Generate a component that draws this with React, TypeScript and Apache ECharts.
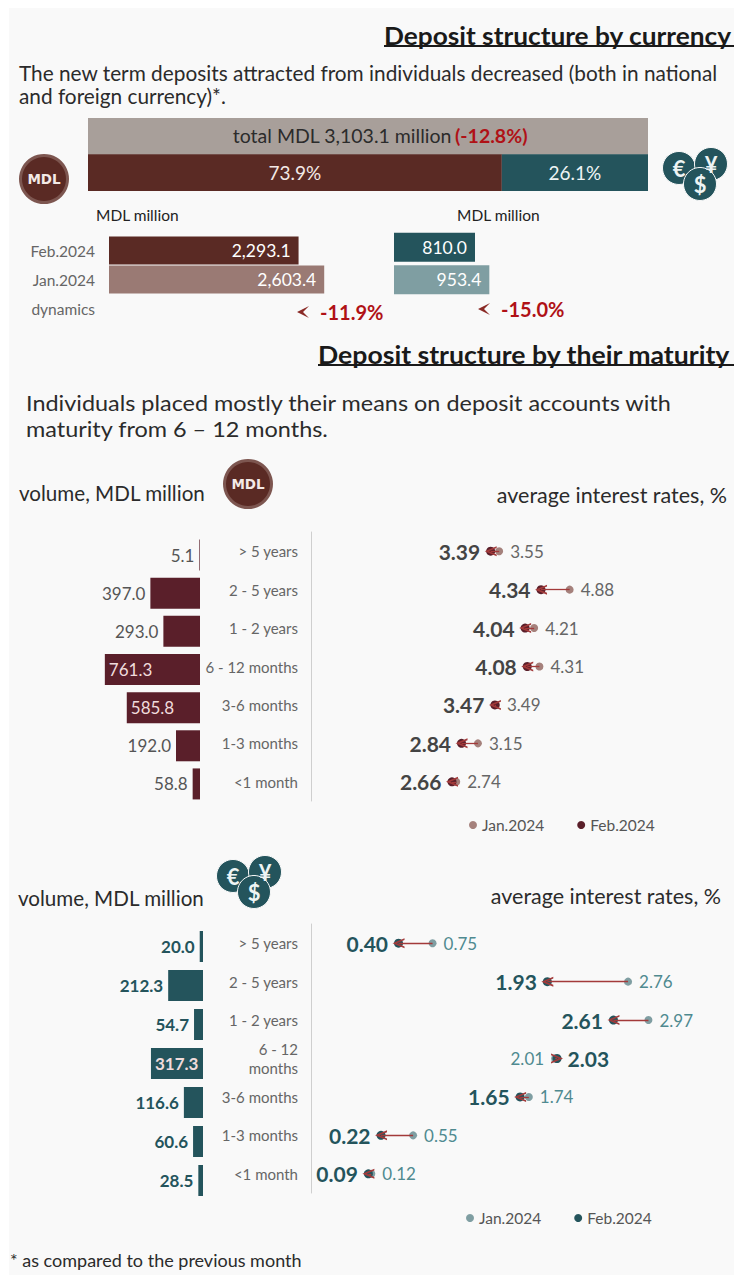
import React, { useEffect, useRef } from "react";
import * as echarts from "echarts";

// ---------- data ----------
const shareCategories = ["total", "split"];
const mdlShare = 73.9;
const fxShare = 26.1;
const totalText = "total MDL 3,103.1 million";
const totalChange = "(-12.8%)";

const amountCategories = ["Feb.2024", "Jan.2024", "dynamics"];
const mdlAmounts = [2293.1, 2603.4];
const fxAmounts = [810.0, 953.4];
const mdlDynamics = "-11.9%";
const fxDynamics = "-15.0%";

const terms = ["> 5 years", "2 - 5 years", "1 - 2 years", "6 - 12 months", "3-6 months", "1-3 months", "<1 month"];
const termsFx = ["> 5 years", "2 - 5 years", "1 - 2 years", "6 - 12\nmonths", "3-6 months", "1-3 months", "<1 month"];

const mdlVolume = [5.1, 397.0, 293.0, 761.3, 585.8, 192.0, 58.8];
const mdlRateFeb = [3.39, 4.34, 4.04, 4.08, 3.47, 2.84, 2.66];
const mdlRateJan = [3.55, 4.88, 4.21, 4.31, 3.49, 3.15, 2.74];

const fxVolume = [20.0, 212.3, 54.7, 317.3, 116.6, 60.6, 28.5];
const fxRateFeb = [0.40, 1.93, 2.61, 2.03, 1.65, 0.22, 0.09];
const fxRateJan = [0.75, 2.76, 2.97, 2.01, 1.74, 0.55, 0.12];

const JAN = "Jan.2024";
const FEB = "Feb.2024";

// ---------- style ----------
const FONT = "Lato, 'Noto Sans', sans-serif";
const BROWN = "#5a2a24";
const WINE = "#5a1f2a";
const TEAL = "#24545c";
const BROWN_L = "#9a7a74";
const TEAL_L = "#7f9ea2";
const RED = "#b01116";
const CHEVRON = "path://M0 10 L5 0 L10 10 L8.2 10 L5 3.6 L1.8 10 Z";

const fmt1 = (v: number) =>
  v.toLocaleString("en-US", { minimumFractionDigits: 1, maximumFractionDigits: 1 });

function text(x: number, y: number, t: string, size: number, opt: any = {}) {
  return {
    type: "text",
    x,
    y,
    z: 10,
    scaleX: opt.scaleX || 1,
    style: {
      text: t,
      fontSize: size,
      fontFamily: opt.family || FONT,
      fontWeight: opt.weight || "normal",
      fill: opt.fill || "#2b2b2b",
      textAlign: opt.align || "left",
      textVerticalAlign: "middle",
      textBaseline: "middle",
    },
  };
}

function mdlCoin(x: number, y: number) {
  return [
    { type: "circle", z: 9, shape: { cx: x, cy: y, r: 25 }, style: { fill: "#7d5650" } },
    { type: "circle", z: 9, shape: { cx: x, cy: y, r: 22 }, style: { fill: BROWN } },
    text(x, y, "MDL", 13.5, { family: "'DejaVu Sans', sans-serif", weight: "bold", fill: "#f3e9e6", align: "center" }),
  ];
}

function fxCoins(x: number, y: number) {
  const coin = (cx: number, cy: number, sym: string) => [
    { type: "circle", z: 9, shape: { cx, cy, r: 16.5 }, style: { fill: TEAL, stroke: "#f9f9f9", lineWidth: 1 } },
    text(cx, cy, sym, 22, { weight: "bold", fill: "#eef4f4", align: "center" }),
  ];
  return [
    ...coin(x - 21, y - 7, "€"),
    ...coin(x + 11, y - 11, "¥"),
    ...coin(x, y + 9, "$"),
  ];
}

function heading(xStart: number, xEnd: number, y: number, t: string, scaleX: number) {
  return [
    text(xStart, y, t, 25, { weight: "bold", fill: "#1a1a1a", scaleX }),
    { type: "line", z: 10, shape: { x1: xStart, y1: y + 11, x2: xEnd, y2: y + 11 }, style: { stroke: "#1a1a1a", lineWidth: 2 } },
  ];
}

function dynamicsMark(x: number, y: number, t: string) {
  return [
    {
      type: "polygon",
      z: 10,
      shape: { points: [[x + 12, y - 6], [x, y], [x + 12, y + 6], [x + 6, y]] },
      style: { fill: "#8a2a26" },
    },
    text(x + 23, y, t, 20, { weight: "bold", fill: RED }),
  ];
}

function amountBarSeries(idx: number, values: number[], width: number) {
  return {
    type: "bar",
    xAxisIndex: idx,
    yAxisIndex: idx,
    barWidth: width,
    data: values.map((v, i) => ({
      value: v,
      itemStyle: { color: idx === 1 ? (i === 0 ? BROWN : BROWN_L) : i === 0 ? TEAL : TEAL_L },
    })),
    label: {
      show: true,
      position: "insideRight",
      distance: 8,
      color: "#fff",
      fontFamily: FONT,
      fontSize: 17.5,
      formatter: (p: any) => fmt1(p.value),
    },
  };
}

function volumeSeries(idx: number, values: number[], color: string, inkLabel: string, weight: string, inside: number) {
  return {
    type: "bar",
    xAxisIndex: idx,
    yAxisIndex: idx,
    barWidth: 31,
    data: values.map((v) => ({
      value: v,
      itemStyle: { color },
      label:
        v >= inside
          ? { position: "insideLeft", distance: 4, color: "#f0dcdc" }
          : { position: "left", distance: 5, color: inkLabel },
    })),
    label: {
      show: true,
      fontFamily: FONT,
      fontSize: 17,
      fontWeight: weight,
      formatter: (p: any) => p.value.toFixed(1),
    },
  };
}

function rateSeries(
  idx: number,
  cats: string[],
  feb: number[],
  jan: number[],
  febColor: string,
  janColor: string,
  febLabel: string,
  janLabel: string,
  suffix: string
) {
  const janS = {
    name: `${JAN} ${suffix}`,
    type: "scatter",
    xAxisIndex: idx,
    yAxisIndex: idx,
    symbolSize: 8,
    itemStyle: { color: janColor, opacity: 1 },
    data: jan.map((v, i) => ({
      value: [v, cats[i]],
      label: { position: v >= feb[i] ? "right" : "left" },
    })),
    label: {
      show: true,
      distance: 7,
      color: janLabel,
      fontFamily: FONT,
      fontSize: 17,
      formatter: (p: any) => p.value[0].toFixed(2),
    },
    z: 3,
  };
  const febS = {
    name: `${FEB} ${suffix}`,
    type: "scatter",
    xAxisIndex: idx,
    yAxisIndex: idx,
    symbolSize: 9,
    itemStyle: { color: febColor, opacity: 1 },
    data: feb.map((v, i) => ({
      value: [v, cats[i]],
      label: { position: v > jan[i] ? "right" : "left" },
    })),
    label: {
      show: true,
      distance: 6,
      color: febLabel,
      fontFamily: FONT,
      fontWeight: "bold",
      fontSize: 21,
      formatter: (p: any) => p.value[0].toFixed(2),
    },
    markLine: {
      silent: true,
      symbol: ["none", CHEVRON],
      symbolSize: [10, 12],
      label: { show: false },
      lineStyle: { color: "#a33a3a", width: 1.3, type: "solid" },
      data: feb.map((v, i) => [{ coord: [jan[i], cats[i]] }, { coord: [v, cats[i]] }]),
    },
    z: 4,
  };
  return [janS, febS];
}

function legendFor(suffix: string, left: number, top: number) {
  return {
    left,
    top,
    orient: "horizontal",
    icon: "circle",
    itemWidth: 8,
    itemHeight: 8,
    itemGap: 33,
    data: [`${JAN} ${suffix}`, `${FEB} ${suffix}`],
    formatter: (n: string) => n.split(" ")[0],
    textStyle: { fontFamily: FONT, fontSize: 15.5, color: "#555" },
    selectedMode: false,
  };
}

const hiddenValue = (gridIndex: number, max: number, extra: any = {}) => ({
  type: "value",
  gridIndex,
  min: 0,
  max,
  show: false,
  ...extra,
});

function buildOption() {
  const graphic = [
    { type: "rect", z: -1, shape: { x: 9, y: 8, width: 725, height: 1267 }, style: { fill: "#f9f9f9" } },
    ...heading(384, 734, 35, "Deposit structure by currency", 1.05),
    text(19, 72, "The new term deposits attracted from individuals decreased (both in national", 20.8),
    text(19, 95, "and foreign currency)*.", 20.8),
    ...mdlCoin(44, 179),
    ...fxCoins(700, 175),
    text(96, 215, "MDL million", 15.5, { fill: "#222" }),
    text(457, 215, "MDL million", 15.5, { fill: "#222" }),
    ...dynamicsMark(297, 312, mdlDynamics),
    ...dynamicsMark(478, 309, fxDynamics),
    ...heading(318, 734, 354, "Deposit structure by their maturity", 1.065),
    text(26, 403, "Individuals placed mostly their means on deposit accounts with", 21.5, { scaleX: 1.09 }),
    text(26, 429, "maturity from 6 – 12 months.", 21.5, { scaleX: 1.09 }),
    text(19, 493, "volume, MDL million", 20.6),
    ...mdlCoin(248, 484),
    text(727, 495, "average interest rates, %", 21.5, { align: "right" }),
    text(18, 898, "volume, MDL million", 20.6),
    ...fxCoins(254, 883),
    text(721, 896, "average interest rates, %", 21.5, { align: "right" }),
    text(10, 1260, "* as compared to the previous month", 18),
  ];

  const catLabel = {
    color: "#666",
    fontFamily: FONT,
    fontSize: 15,
    align: "right",
    margin: 13,
  };

  return {
    animation: false,
    backgroundColor: "#ffffff",
    graphic,
    legend: [legendFor("MDL", 464, 812), legendFor("FX", 461, 1205)],
    grid: [
      { left: 88, top: 118, width: 560, height: 73 },
      { left: 109, top: 236, width: 248, height: 87 },
      { left: 394, top: 231, width: 300, height: 65 },
      { left: 100, top: 536, width: 100, height: 267 },
      { left: 311, top: 532, width: 371, height: 269 },
      { left: 100, top: 927, width: 103, height: 273 },
      { left: 311, top: 924, width: 389, height: 269 },
    ],
    xAxis: [
      hiddenValue(0, 100),
      hiddenValue(1, 3000),
      hiddenValue(2, 3000),
      hiddenValue(3, 800, { inverse: true }),
      hiddenValue(4, 7),
      hiddenValue(5, 628, { inverse: true }),
      hiddenValue(6, 3.5, { min: -0.5 }),
    ],
    yAxis: [
      { type: "category", gridIndex: 0, data: shareCategories, inverse: true, show: false },
      {
        type: "category",
        gridIndex: 1,
        data: amountCategories,
        inverse: true,
        axisLine: { show: false },
        axisTick: { show: false },
        axisLabel: { color: "#666", fontFamily: FONT, fontSize: 15.5, margin: 14 },
      },
      { type: "category", gridIndex: 2, data: amountCategories.slice(0, 2), inverse: true, show: false },
      { type: "category", gridIndex: 3, data: terms, inverse: true, show: false },
      {
        type: "category",
        gridIndex: 4,
        data: terms,
        inverse: true,
        axisLine: { show: true, onZero: false, lineStyle: { color: "#cfcfcf", width: 1 } },
        axisTick: { show: false },
        axisLabel: catLabel,
      },
      { type: "category", gridIndex: 5, data: termsFx, inverse: true, show: false },
      {
        type: "category",
        gridIndex: 6,
        data: termsFx,
        inverse: true,
        axisLine: { show: true, onZero: false, lineStyle: { color: "#cfcfcf", width: 1 } },
        axisTick: { show: false },
        axisLabel: { ...catLabel, lineHeight: 19 },
      },
    ],
    series: [
      {
        type: "bar",
        xAxisIndex: 0,
        yAxisIndex: 0,
        stack: "s",
        barWidth: 37,
        data: [100, null],
        itemStyle: { color: "#a89f9a" },
        label: {
          show: true,
          position: "inside",
          offset: [12, -1],
          formatter: () => `{a|${totalText}} {r|${totalChange}}`,
          rich: {
            a: { fontFamily: FONT, fontSize: 19.5, color: "#2b2b2b" },
            r: { fontFamily: FONT, fontSize: 19.5, fontWeight: "bold", color: RED },
          },
        },
      },
      {
        type: "bar",
        xAxisIndex: 0,
        yAxisIndex: 0,
        stack: "s",
        barWidth: 37,
        data: [null, mdlShare],
        itemStyle: { color: BROWN },
        label: { show: true, position: "inside", color: "#f3e9e6", fontFamily: FONT, fontSize: 19, formatter: (p: any) => `${p.value}%` },
      },
      {
        type: "bar",
        xAxisIndex: 0,
        yAxisIndex: 0,
        stack: "s",
        barWidth: 37,
        data: [null, fxShare],
        itemStyle: { color: TEAL },
        label: { show: true, position: "inside", color: "#eef4f4", fontFamily: FONT, fontSize: 19, formatter: (p: any) => `${p.value}%` },
      },
      amountBarSeries(1, mdlAmounts, 28),
      amountBarSeries(2, fxAmounts, 29),
      volumeSeries(3, mdlVolume, WINE, "#555", "normal", 500),
      ...rateSeries(4, terms, mdlRateFeb, mdlRateJan, WINE, "#a5817c", "#444", "#666", "MDL"),
      volumeSeries(5, fxVolume, TEAL, TEAL, "bold", 300),
      ...rateSeries(6, termsFx, fxRateFeb, fxRateJan, TEAL, "#7f9ea2", TEAL, "#4f8a90", "FX"),
    ],
  };
}

export default function App() {
  const ref = useRef<HTMLDivElement>(null);
  useEffect(() => {
    document.body.style.margin = "0";
    const chart = echarts.init(ref.current!, null, { renderer: "svg" });
    chart.setOption(buildOption() as any);
    return () => chart.dispose();
  }, []);
  return <div ref={ref} style={{ width: 734, height: 1279 }} />;
}
